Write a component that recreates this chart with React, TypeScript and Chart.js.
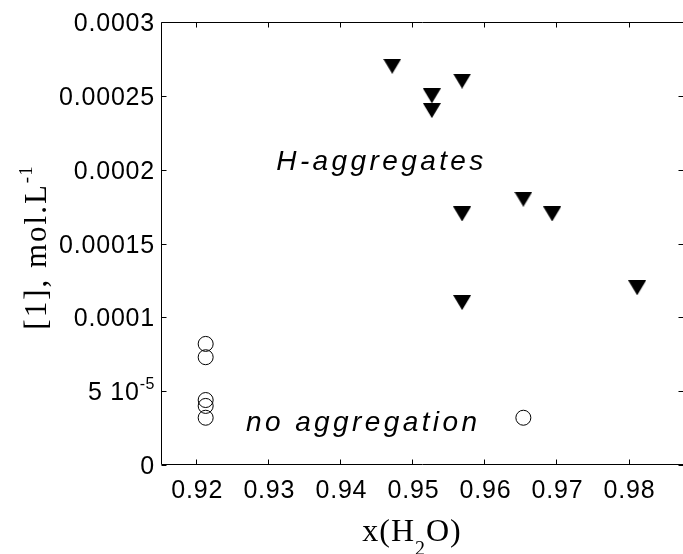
import React, { useEffect, useRef } from "react";
import { Chart, registerables } from "chart.js";

Chart.register(...registerables);

// ---- data ----
const noAggX = [0.9213, 0.9213, 0.9213, 0.9213, 0.9213, 0.9654];
const noAggY = [8.2e-5, 7.3e-5, 4.4e-5, 4.0e-5, 3.2e-5, 3.2e-5];
const hAggX = [0.9472, 0.9527, 0.9527, 0.9569, 0.9569, 0.9569, 0.9654, 0.9694, 0.9812];
const hAggY = [2.7e-4, 2.5e-4, 2.4e-4, 2.6e-4, 1.7e-4, 1.1e-4, 1.8e-4, 1.7e-4, 1.2e-4];

const xTickValues = [0.92, 0.93, 0.94, 0.95, 0.96, 0.97, 0.98];
const xTickLabels = ["0.92", "0.93", "0.94", "0.95", "0.96", "0.97", "0.98"];
const yTickValues = [0, 5e-5, 1e-4, 1.5e-4, 2e-4, 2.5e-4, 3e-4];
const yTickBase = ["0", "5 10", "0.0001", "0.00015", "0.0002", "0.00025", "0.0003"];
const yTickSup = ["", "-5", "", "", "", "", ""];

const X_MIN = 0.9151;
const X_MAX = 0.9877;
const Y_MIN = 0;
const Y_MAX = 3e-4;

const annH = { text: "H-aggregates", x: 0.9311, y: 2.0e-4 };
const annNo = { text: "no aggregation", x: 0.9269, y: 2.3e-5 };

const SANS = "'Liberation Sans', Arial, sans-serif";
const SERIF = "'Liberation Serif', 'Times New Roman', serif";

function makeTriangle(): HTMLCanvasElement {
  const c = document.createElement("canvas");
  c.width = 18;
  c.height = 15;
  const g = c.getContext("2d")!;
  g.fillStyle = "#000";
  g.beginPath();
  g.moveTo(0, 0);
  g.lineTo(18, 0);
  g.lineTo(9, 15);
  g.closePath();
  g.fill();
  return c;
}

const framePlugin = {
  id: "matlabFrame",
  afterDraw(chart: any) {
    const { ctx, chartArea } = chart;
    const xs = chart.scales.x;
    const ys = chart.scales.y;
    const L = chartArea.left + 0.5;
    const R = chartArea.right - 0.5;
    const T = chartArea.top + 0.5;
    const B = chartArea.bottom - 0.5;
    ctx.save();
    ctx.strokeStyle = "#000";
    ctx.lineWidth = 1;
    ctx.beginPath();
    ctx.rect(L, T, R - L, B - T);
    const tl = 5;
    xTickValues.forEach((v) => {
      const px = Math.round(xs.getPixelForValue(v)) + 0.5;
      ctx.moveTo(px, B);
      ctx.lineTo(px, B - tl);
      ctx.moveTo(px, T);
      ctx.lineTo(px, T + tl);
    });
    yTickValues.forEach((v) => {
      const py = Math.round(ys.getPixelForValue(v)) + 0.5;
      ctx.moveTo(L, py);
      ctx.lineTo(L + tl, py);
      ctx.moveTo(R, py);
      ctx.lineTo(R - tl, py);
    });
    ctx.stroke();

    ctx.fillStyle = "#000";
    const TF = "25px " + SANS;
    const TLS = "0.8px";
    // x tick labels
    ctx.font = TF;
    (ctx as any).letterSpacing = TLS;
    ctx.textAlign = "center";
    ctx.textBaseline = "alphabetic";
    xTickValues.forEach((v, i) => {
      const px = xs.getPixelForValue(v);
      ctx.fillText(xTickLabels[i], px + 1, B + 33);
    });
    // y tick labels
    ctx.textAlign = "left";
    yTickValues.forEach((v, i) => {
      const py = ys.getPixelForValue(v);
      const rightEdge = chartArea.left - 6;
      ctx.font = TF;
      (ctx as any).letterSpacing = TLS;
      const bw = ctx.measureText(yTickBase[i]).width;
      let sw = 0;
      if (yTickSup[i]) {
        ctx.font = "16px " + SANS;
        (ctx as any).letterSpacing = "0.5px";
        sw = ctx.measureText(yTickSup[i]).width;
      }
      const start = rightEdge - bw - sw;
      ctx.font = TF;
      (ctx as any).letterSpacing = TLS;
      ctx.fillText(yTickBase[i], start, py + 9);
      if (yTickSup[i]) {
        ctx.font = "16px " + SANS;
        (ctx as any).letterSpacing = "0.5px";
        ctx.fillText(yTickSup[i], start + bw, py - 2);
      }
    });

    // annotations
    ctx.font = "italic 28px " + SANS;
    (ctx as any).letterSpacing = "3.4px";
    ctx.textAlign = "left";
    ctx.fillText(annH.text, xs.getPixelForValue(annH.x), ys.getPixelForValue(annH.y));
    ctx.fillText(annNo.text, xs.getPixelForValue(annNo.x), ys.getPixelForValue(annNo.y));

    // x axis title: x(H2O)
    {
      const parts = [
        { t: "x(H", f: "32px " + SERIF, dy: 0 },
        { t: "2", f: "20px " + SERIF, dy: 14 },
        { t: "O)", f: "32px " + SERIF, dy: 0 },
      ];
      let total = 0;
      (ctx as any).letterSpacing = "1px";
      parts.forEach((p) => {
        ctx.font = p.f;
        total += ctx.measureText(p.t).width;
      });
      let cx = 412 - total / 2;
      const base = 541;
      parts.forEach((p) => {
        ctx.font = p.f;
        ctx.fillText(p.t, cx, base + p.dy);
        cx += ctx.measureText(p.t).width;
      });
    }

    // y axis title: [1], mol.L^-1
    {
      ctx.translate(46, (chartArea.top + chartArea.bottom) / 2 + 4);
      ctx.rotate(-Math.PI / 2);
      const parts = [
        { t: "[1], mol.L", f: "31px " + SERIF, dy: 0, ls: "2px" },
        { t: "-1", f: "19px " + SERIF, dy: -14, ls: "1px" },
      ];
      let total = 0;
      parts.forEach((p) => {
        ctx.font = p.f;
        (ctx as any).letterSpacing = p.ls;
        total += ctx.measureText(p.t).width;
      });
      let cx = -total / 2;
      parts.forEach((p) => {
        ctx.font = p.f;
        (ctx as any).letterSpacing = p.ls;
        ctx.fillText(p.t, cx, p.dy);
        cx += ctx.measureText(p.t).width;
      });
    }
    ctx.restore();
  },
};

export default function App() {
  const ref = useRef<HTMLCanvasElement | null>(null);

  useEffect(() => {
    if (!ref.current) return;
    const tri = makeTriangle();
    const chart = new Chart(ref.current, {
      type: "scatter",
      data: {
        datasets: [
          {
            label: "no aggregation",
            data: noAggX.map((x, i) => ({ x, y: noAggY[i] })),
            pointStyle: "circle",
            pointRadius: 7.5,
            pointHoverRadius: 7.5,
            borderColor: "#000",
            backgroundColor: "rgba(0,0,0,0)",
            pointBorderWidth: 1,
          },
          {
            label: "H-aggregates",
            data: hAggX.map((x, i) => ({ x, y: hAggY[i] })),
            pointStyle: tri as any,
            pointRadius: 9,
            borderColor: "#000",
            backgroundColor: "#000",
          },
        ],
      },
      options: {
        animation: false,
        responsive: false,
        events: [],
        layout: { autoPadding: false, padding: { top: 22, right: 1, left: 0, bottom: 0 } },
        plugins: {
          legend: { display: false },
          tooltip: { enabled: false },
        },
        scales: {
          x: {
            type: "linear",
            min: X_MIN,
            max: X_MAX,
            grid: { display: false },
            border: { display: false },
            ticks: { display: false },
            afterFit: (s: any) => {
              s.height = 89;
            },
          },
          y: {
            type: "linear",
            min: Y_MIN,
            max: Y_MAX,
            grid: { display: false },
            border: { display: false },
            ticks: { display: false },
            afterFit: (s: any) => {
              s.width = 161;
            },
          },
        },
      },
      plugins: [framePlugin],
    });
    return () => chart.destroy();
  }, []);

  return (
    <div
      style={{
        position: "fixed",
        left: 0,
        top: 0,
        width: 683,
        height: 554,
        background: "#fff",
        overflow: "hidden",
      }}
    >
      <canvas ref={ref} width={685} height={554} style={{ display: "block" }} />
    </div>
  );
}
